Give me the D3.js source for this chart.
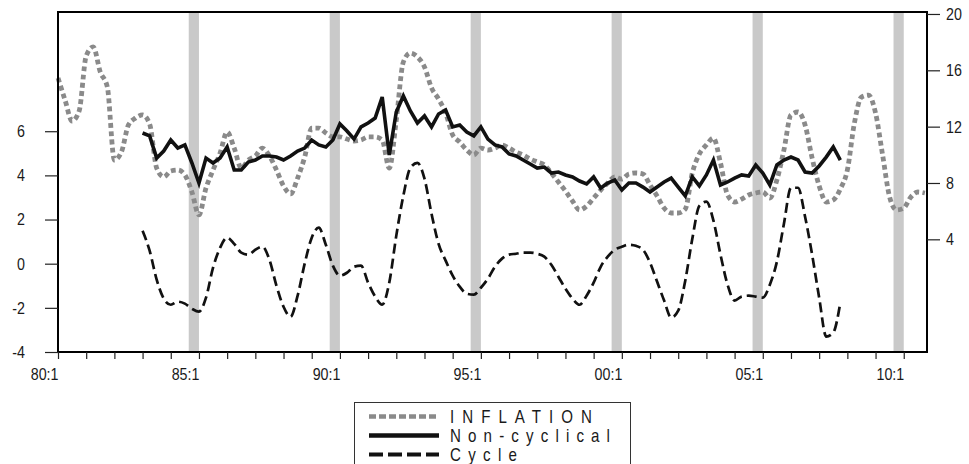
<!DOCTYPE html>
<html><head><meta charset="utf-8">
<script src="https://cdn.jsdelivr.net/npm/d3@7"></script>
<style>
html,body{margin:0;padding:0;background:#fff;}
svg{display:block;}
text{font-family:"Liberation Sans Narrow","Arial Narrow","Liberation Sans",Arial,sans-serif;fill:#1a1a1a;}
</style></head>
<body>
<svg id="c" width="969" height="464"></svg>
<script>
// ---- DATA ----
const startYear = 1980;
const nQuarters = 124; // 80:1 .. 10:4
const quarters = d3.range(nQuarters).map(i => {
  const y = startYear + Math.floor(i / 4);
  return String(y % 100).padStart(2, "0") + ":" + (i % 4 + 1);
});
const xTickLabels = ["80:1","85:1","90:1","95:1","00:1","05:1","10:1"];
const leftTicks = [-4,-2,0,2,4,6];
const rightTicks = [4,8,12,16,20];
const shadedQuarters = ["85:1","90:1","95:1","00:1","05:1","10:1"];

const inflation = [15.46,13.89,12.40,13.11,17.02,17.66,15.88,14.82,9.63,10.20,
12.12,12.61,12.83,12.19,9.06,8.43,8.85,8.92,8.57,7.36,
5.73,7.64,8.92,10.13,11.62,10.48,9.06,9.63,9.92,10.48,
9.92,8.92,7.79,7.22,8.35,9.84,11.90,11.90,11.55,11.27,
11.27,11.12,10.98,11.05,11.27,11.27,11.05,9.06,12.47,16.59,
17.23,16.95,16.24,14.75,13.96,12.97,11.41,10.91,10.34,9.99,
10.48,10.34,10.48,10.70,10.48,10.20,9.99,9.70,9.49,9.28,
8.71,8.07,7.43,6.72,6.08,6.36,6.93,7.50,8.00,8.43,
8.28,8.64,8.71,8.64,7.86,7.08,6.22,5.87,5.87,6.15,
8.71,10.06,10.70,11.19,9.42,7.15,6.65,6.86,7.15,7.29,
7.36,6.93,8.21,10.34,12.83,13.04,12.12,9.77,7.79,6.65,
6.79,7.57,8.92,12.26,14.10,14.24,12.97,9.99,7.00,6.08,
6.22,7.00,7.36,7.29];

const seriesStart = "83:1"; // non-cyclical and cycle begin here
const nonCyclical = [11.55,11.34,9.77,10.27,11.05,10.48,10.70,9.42,8.00,9.77,
9.42,9.77,10.56,8.92,8.92,9.49,9.63,9.92,9.92,9.84,
9.63,9.92,10.27,10.48,11.05,10.70,10.56,11.05,12.19,11.69,
11.12,11.98,12.26,12.61,14.10,9.99,13.04,14.18,13.11,12.26,
12.76,11.98,12.90,13.18,11.98,12.12,11.62,11.34,11.98,11.12,
10.70,10.56,10.06,9.92,9.63,9.35,9.06,9.13,8.71,8.78,
8.57,8.43,8.14,7.93,8.43,7.64,8.00,8.21,7.50,8.00,
8.00,7.71,7.36,7.71,8.07,8.35,7.71,7.08,8.43,7.79,
8.57,9.63,7.86,8.07,8.35,8.57,8.50,9.28,8.71,7.86,
9.28,9.63,9.84,9.63,8.78,8.71,9.21,9.84,10.56,9.63];

const cycle = [1.49,0.59,-0.72,-1.58,-1.86,-1.72,-1.81,-2.04,-2.17,-1.54,
-0.18,0.72,1.18,0.90,0.50,0.41,0.63,0.77,0.18,-1.00,
-1.95,-2.40,-1.45,0.00,1.18,1.63,0.86,-0.09,-0.54,-0.41,
-0.14,-0.09,-0.86,-1.49,-1.86,-0.86,1.27,3.08,4.34,4.57,
3.85,2.26,0.90,0.14,-0.54,-1.04,-1.36,-1.40,-1.09,-0.68,
-0.14,0.23,0.41,0.45,0.50,0.50,0.45,0.32,-0.05,-0.59,
-1.13,-1.58,-1.86,-1.45,-0.86,-0.14,0.32,0.63,0.77,0.86,
0.81,0.63,0.05,-0.81,-1.67,-2.44,-2.13,-0.77,1.13,2.62,
2.81,1.95,0.41,-0.95,-1.67,-1.49,-1.45,-1.49,-1.54,-0.95,
0.09,1.81,3.44,3.44,2.13,0.41,-1.54,-3.30,-3.12,-1.76];

const legendLabels = ["INFLATION","Non-cyclical","Cycle"];

// ---- LAYOUT ----
const svg = d3.select("#c");
const L = 58, R = 927, T = 12, B = 352;
const NARROW = 0.84;
const x = d3.scaleLinear().domain([0, 123.3]).range([L, R]);
const yL = d3.scaleLinear().domain([-4, 11.4]).range([B, T]);
const yR = d3.scaleLinear().domain([-4, 20.14]).range([B, T]);
const qi = q => quarters.indexOf(q);
const s0 = qi(seriesStart);

function narrow(sel) {
  sel.each(function() {
    const ax = +(this.getAttribute("x") || 0);
    this.setAttribute("transform", `translate(${ax},0) scale(${NARROW},1) translate(${-ax},0)`);
  });
}

// shaded bands
svg.append("g").selectAll("rect").data(shadedQuarters).join("rect")
  .attr("x", d => x(qi(d) - 1.45))
  .attr("width", d => x(qi(d)) - x(qi(d) - 1.45))
  .attr("y", T).attr("height", B - T)
  .attr("fill", "#c9c9c9");

// lines
const smooth = d3.curveMonotoneX;
const lineInf = d3.line().x((d,i) => x(i)).y(d => yR(d)).curve(smooth);
const lineNC = d3.line().x((d,i) => x(s0 + i)).y(d => yR(d));
const lineCy = d3.line().x((d,i) => x(s0 + i)).y(d => yL(d)).curve(smooth);

svg.append("path").attr("d", lineInf(inflation)).attr("fill","none")
  .attr("stroke","#8a8a8a").attr("stroke-width",4.8).attr("stroke-dasharray","4.8 3.4");
svg.append("path").attr("d", lineCy(cycle)).attr("fill","none")
  .attr("stroke","#111").attr("stroke-width",2.7).attr("stroke-dasharray","10 5");
svg.append("path").attr("d", lineNC(nonCyclical)).attr("fill","none")
  .attr("stroke","#111").attr("stroke-width",3.6).attr("stroke-linejoin","miter");

// frame
svg.append("rect").attr("x",L).attr("y",T).attr("width",R-L).attr("height",B-T)
  .attr("fill","none").attr("stroke","#000").attr("stroke-width",2);

const fmt = d => String(d);

// bottom axis: yearly ticks
const yearIdx = d3.range(0, nQuarters, 4);
const bx = svg.append("g").attr("transform",`translate(0,${B})`)
  .call(d3.axisBottom(x).tickValues(yearIdx).tickSize(7).tickFormat(d => {
    const q = quarters[d]; return xTickLabels.includes(q) ? q : "";
  }));
bx.select(".domain").remove();
bx.selectAll("line").attr("stroke","#222").attr("stroke-width",1.2);
bx.selectAll("text").attr("text-anchor","end").attr("font-size",17)
  .attr("dy",0).attr("y",28).attr("x",0).call(narrow);

// left axis
const la = svg.append("g").attr("transform",`translate(${L},0)`)
  .call(d3.axisLeft(yL).tickValues(leftTicks).tickSize(13).tickPadding(20).tickFormat(fmt));
la.select(".domain").remove();
la.selectAll("line").attr("stroke","#222").attr("stroke-width",1.2);
la.selectAll("text").attr("font-size",17).call(narrow);

// right axis
const ra = svg.append("g").attr("transform",`translate(${R},0)`)
  .call(d3.axisRight(yR).tickValues(rightTicks).tickSize(13).tickPadding(6).tickFormat(fmt));
ra.select(".domain").remove();
ra.selectAll("line").attr("stroke","#222").attr("stroke-width",1.2);
ra.selectAll("text").attr("font-size",17).call(narrow);

// legend
const lg = svg.append("g");
lg.append("rect").attr("x",354.5).attr("y",402.5).attr("width",276).attr("height",80)
  .attr("fill","#fff").attr("stroke","#333").attr("stroke-width",1);
const styles = [
  {stroke:"#8a8a8a", w:4.6, dash:"7 3"},
  {stroke:"#111", w:4.4, dash:null},
  {stroke:"#111", w:4, dash:"14 5"}
];
const textLens = [142, 160, 67];
legendLabels.forEach((lab, k) => {
  const yy = 416.5 + k * 19;
  lg.append("line").attr("x1",369).attr("x2",439).attr("y1",yy).attr("y2",yy)
    .attr("stroke",styles[k].stroke).attr("stroke-width",styles[k].w)
    .attr("stroke-dasharray",styles[k].dash);
  lg.append("text").attr("x",450).attr("y",yy+6.5).attr("font-size",18).attr("fill","#222")
    .attr("textLength",textLens[k] / NARROW).attr("lengthAdjust","spacing").text(lab)
    .call(narrow);
});
</script>
</body></html>
